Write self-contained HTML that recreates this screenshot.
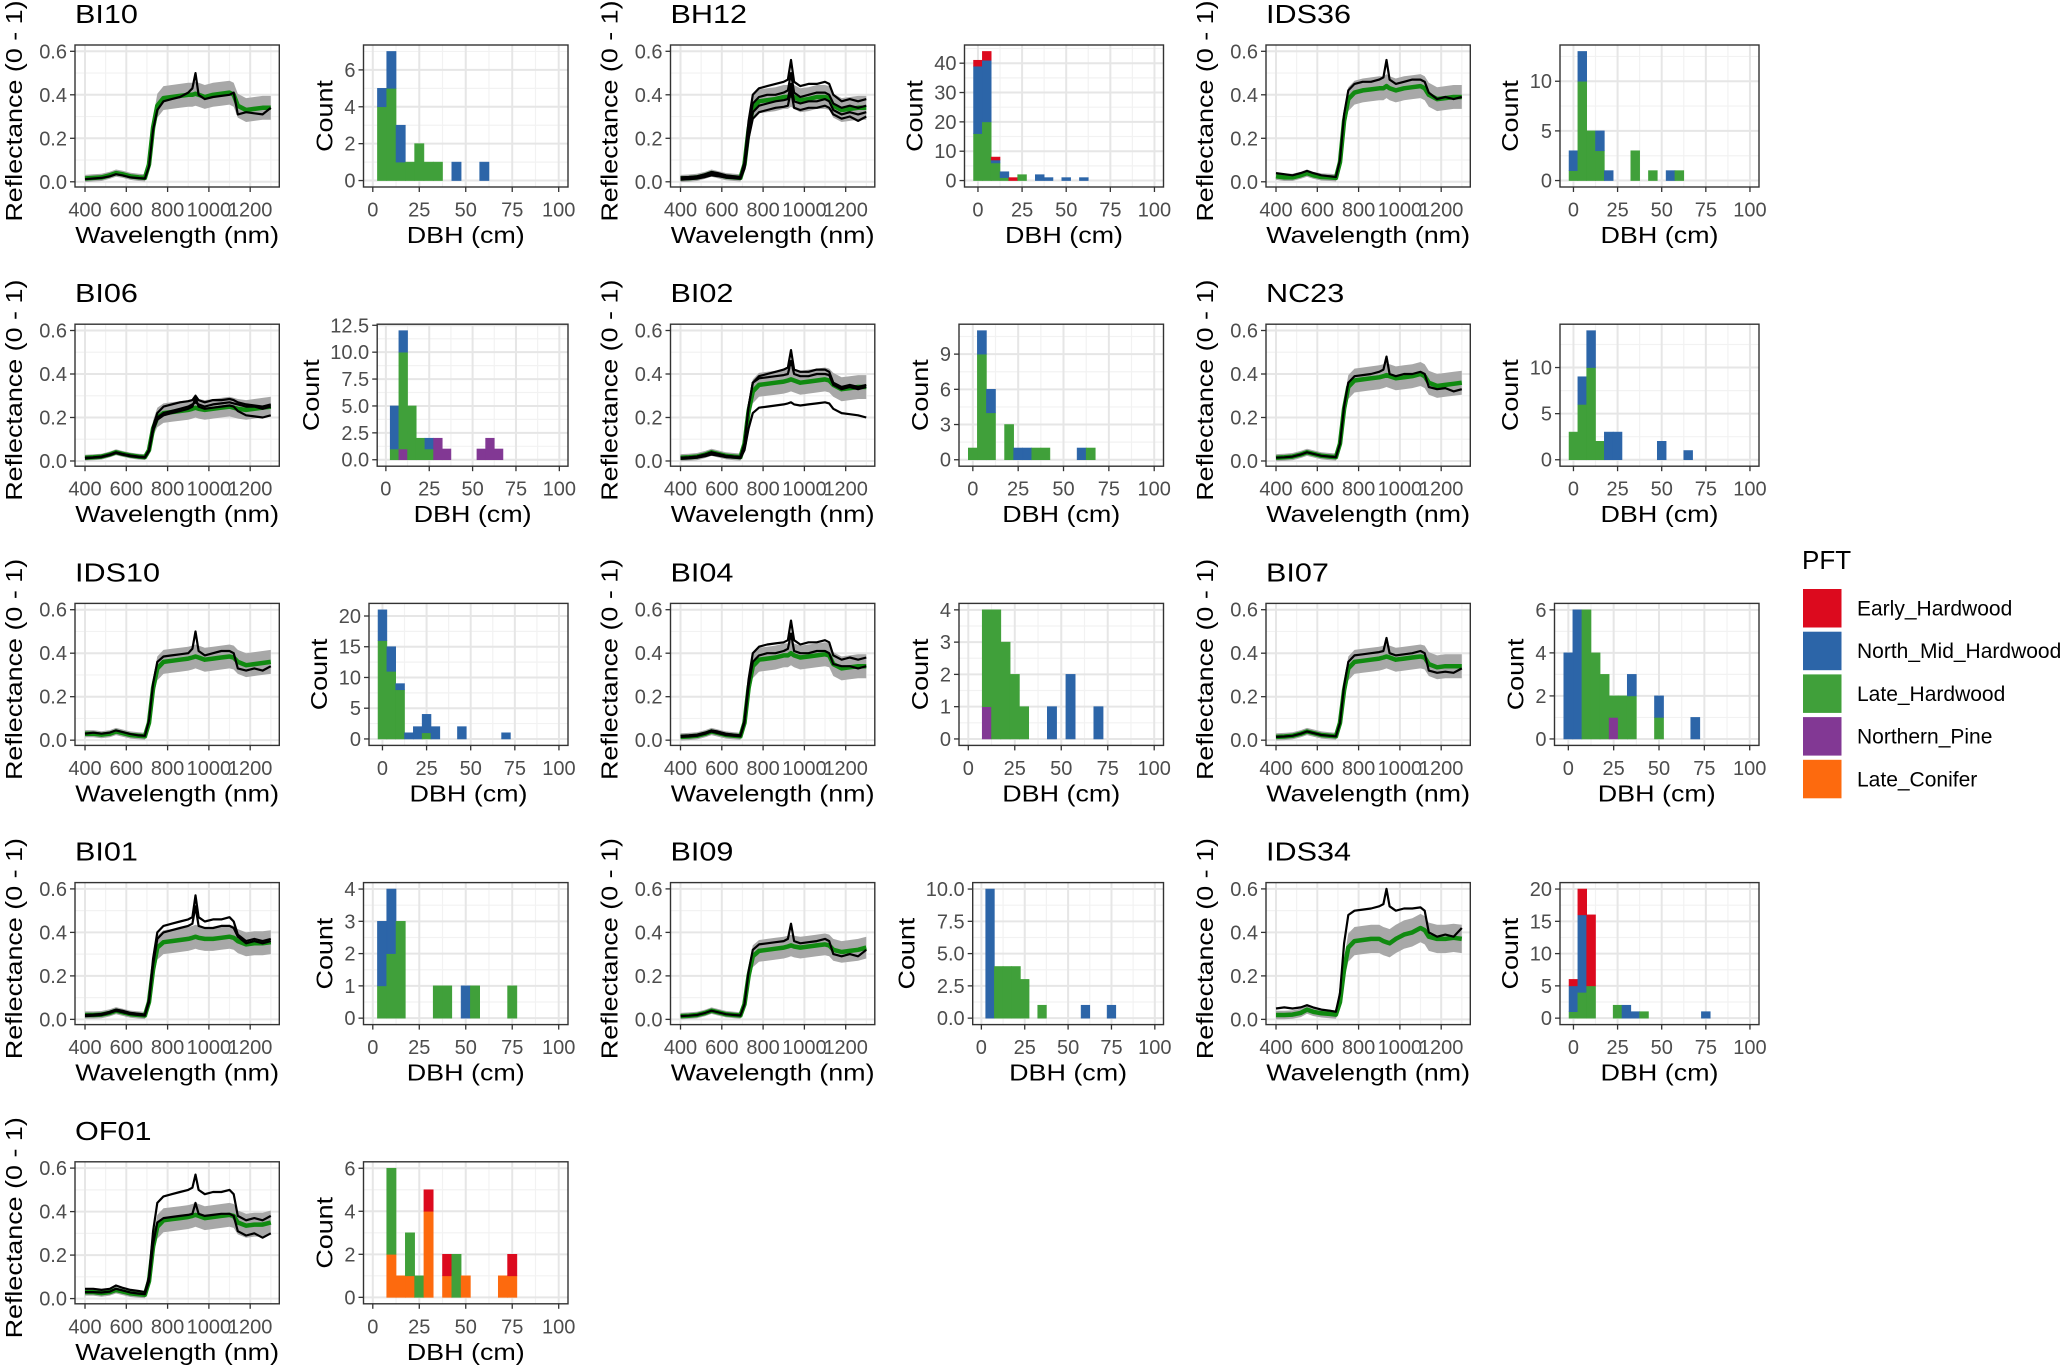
<!DOCTYPE html>
<html><head><meta charset="utf-8"><style>
html,body{margin:0;padding:0;background:#fff;}
svg{display:block;font-family:"Liberation Sans",Arial,sans-serif;}
</style></head><body>
<svg id="fig" xmlns="http://www.w3.org/2000/svg" width="2067" height="1370" viewBox="0 0 2067 1370"></svg>
<script>
// ===== Data =====
const wavelengths = [400,440,480,520,550,580,620,660,690,710,730,750,780,820,860,900,920,935,950,980,1020,1060,1100,1120,1140,1180,1220,1260,1300];
const ribbonRel = [.3,.3,.3,.3,.3,.3,.3,.3,.3,.5,.8,1,1,1,1,1,1,1,1,1,1,1,1,1,1,1,1,1,1];
const pftNames = ["Early_Hardwood","North_Mid_Hardwood","Late_Hardwood","Northern_Pine","Late_Conifer"];
const pftColors = ["#dc0a1e","#2c65a8","#40a03a","#823894","#fd6a0e"];
const siteNames = ["BI10","BH12","IDS36","BI06","BI02","NC23","IDS10","BI04","BI07","BI01","BI09","IDS34","OF01"];
const ribbonSd = [.055,.055,.055,.045,.055,.055,.055,.055,.055,.055,.05,.065,.055];
const meanSpectra = [
[.015,.018,.02,.03,.04,.035,.025,.02,.018,.08,.25,.35,.385,.39,.395,.40,.40,.405,.40,.39,.40,.405,.41,.40,.35,.33,.335,.34,.34],
[.015,.017,.02,.03,.04,.033,.024,.02,.018,.08,.24,.34,.37,.375,.38,.39,.39,.40,.39,.375,.38,.39,.39,.385,.35,.33,.335,.34,.34],
[.025,.02,.02,.03,.04,.03,.022,.02,.018,.09,.28,.38,.41,.42,.425,.43,.43,.44,.43,.42,.43,.435,.44,.43,.40,.38,.385,.39,.39],
[.015,.017,.02,.03,.04,.033,.025,.02,.018,.05,.15,.2,.22,.225,.23,.235,.24,.245,.24,.235,.24,.245,.25,.245,.24,.235,.24,.245,.25],
[.015,.017,.02,.03,.04,.033,.024,.02,.018,.08,.23,.32,.35,.355,.36,.365,.37,.375,.37,.36,.365,.37,.375,.37,.35,.33,.335,.34,.34],
[.015,.017,.02,.03,.04,.033,.024,.02,.018,.08,.24,.34,.37,.375,.38,.385,.39,.395,.39,.38,.385,.39,.40,.39,.36,.345,.35,.355,.36],
[.03,.03,.025,.03,.04,.033,.024,.02,.018,.08,.24,.33,.36,.365,.37,.375,.38,.385,.38,.37,.375,.38,.385,.38,.36,.345,.35,.355,.36],
[.015,.017,.02,.03,.04,.033,.024,.02,.018,.08,.24,.34,.37,.375,.38,.39,.39,.40,.39,.38,.385,.39,.395,.39,.35,.33,.335,.34,.34],
[.015,.017,.02,.03,.04,.033,.024,.02,.018,.08,.23,.33,.36,.365,.37,.375,.38,.385,.38,.37,.375,.38,.385,.38,.35,.335,.34,.34,.34],
[.02,.02,.022,.03,.04,.033,.024,.02,.018,.08,.23,.33,.355,.36,.365,.37,.375,.38,.375,.37,.37,.375,.38,.375,.36,.345,.35,.35,.355],
[.015,.017,.02,.03,.04,.033,.024,.02,.018,.07,.2,.29,.315,.32,.325,.33,.335,.34,.335,.33,.335,.34,.345,.34,.32,.31,.315,.32,.33],
[.02,.02,.022,.03,.045,.035,.028,.025,.022,.08,.23,.33,.36,.365,.37,.37,.36,.355,.35,.37,.39,.40,.42,.41,.38,.37,.37,.375,.37],
[.03,.03,.025,.03,.04,.033,.024,.02,.018,.08,.24,.33,.36,.365,.37,.375,.38,.385,.38,.37,.375,.38,.385,.38,.35,.335,.34,.34,.35]
];
const treeSpectra = [
[[.012,.015,.018,.025,.035,.03,.02,.017,.015,.07,.24,.33,.37,.38,.39,.41,.43,.50,.40,.38,.39,.395,.40,.41,.31,.32,.315,.31,.34]],
[[.02,.022,.025,.035,.045,.04,.03,.025,.022,.09,.28,.40,.43,.44,.45,.46,.47,.56,.46,.44,.45,.45,.46,.45,.40,.37,.38,.37,.38],
 [.015,.017,.02,.03,.04,.033,.024,.02,.018,.08,.25,.36,.39,.40,.40,.41,.42,.50,.41,.39,.40,.41,.41,.40,.36,.34,.35,.34,.35],
 [.012,.014,.017,.026,.035,.03,.022,.018,.016,.07,.22,.32,.35,.36,.37,.375,.38,.45,.37,.36,.37,.37,.38,.37,.33,.31,.32,.31,.32],
 [.01,.012,.015,.022,.03,.026,.019,.016,.014,.06,.2,.29,.32,.33,.34,.345,.35,.42,.34,.33,.34,.34,.35,.34,.31,.29,.3,.28,.3]],
[[.04,.035,.03,.04,.05,.04,.03,.025,.022,.1,.31,.42,.45,.46,.46,.47,.48,.56,.47,.45,.46,.47,.47,.46,.41,.38,.39,.38,.39]],
[[.015,.017,.02,.03,.04,.033,.025,.02,.018,.05,.16,.22,.25,.26,.27,.275,.28,.30,.28,.27,.28,.28,.285,.28,.27,.26,.255,.25,.26],
 [.012,.015,.018,.027,.037,.03,.022,.018,.016,.045,.14,.19,.21,.22,.23,.24,.25,.29,.25,.24,.245,.25,.255,.25,.23,.21,.205,.2,.21],
 [.013,.016,.019,.028,.038,.031,.023,.019,.017,.05,.15,.2,.22,.23,.24,.25,.26,.27,.26,.25,.26,.265,.27,.265,.26,.25,.25,.24,.25]],
[[.015,.017,.02,.03,.04,.033,.024,.02,.018,.08,.25,.36,.39,.40,.41,.42,.43,.51,.42,.41,.41,.42,.42,.41,.36,.34,.35,.34,.35],
 [.015,.017,.02,.03,.04,.033,.024,.02,.018,.08,.25,.36,.38,.385,.39,.395,.40,.46,.40,.39,.39,.40,.40,.395,.35,.33,.34,.33,.34],
 [.01,.012,.015,.022,.03,.025,.018,.015,.013,.05,.15,.22,.245,.25,.255,.26,.265,.27,.26,.255,.26,.265,.27,.265,.24,.22,.215,.21,.2]],
[[.015,.017,.02,.03,.04,.033,.024,.02,.018,.08,.25,.36,.39,.395,.40,.41,.42,.48,.40,.39,.40,.40,.41,.40,.34,.33,.335,.32,.33]],
[[.03,.035,.03,.035,.045,.038,.028,.022,.02,.09,.26,.36,.385,.39,.395,.40,.42,.50,.41,.39,.40,.41,.41,.40,.33,.32,.33,.32,.34]],
[[.02,.022,.025,.035,.045,.04,.03,.025,.022,.09,.28,.40,.43,.44,.445,.45,.46,.55,.46,.44,.45,.45,.46,.45,.39,.37,.38,.37,.38],
 [.015,.017,.02,.03,.04,.033,.024,.02,.018,.08,.25,.36,.39,.40,.40,.41,.42,.49,.41,.40,.40,.41,.41,.40,.35,.34,.34,.33,.34]],
[[.015,.017,.02,.03,.04,.033,.024,.02,.018,.08,.25,.36,.39,.395,.40,.405,.41,.47,.40,.39,.395,.40,.41,.40,.32,.31,.315,.31,.33]],
[[.02,.022,.025,.035,.045,.04,.03,.025,.022,.09,.28,.40,.43,.44,.45,.46,.47,.57,.47,.45,.46,.46,.47,.45,.39,.36,.37,.36,.37],
 [.015,.017,.02,.03,.04,.033,.024,.02,.018,.08,.25,.37,.40,.41,.42,.43,.44,.52,.43,.42,.42,.43,.43,.42,.38,.35,.36,.35,.36]],
[[.015,.017,.02,.03,.04,.033,.024,.02,.018,.07,.22,.32,.345,.35,.355,.36,.37,.44,.36,.35,.355,.36,.37,.36,.30,.29,.30,.29,.32]],
[[.05,.055,.05,.055,.065,.055,.045,.04,.035,.12,.35,.48,.50,.505,.51,.52,.53,.60,.52,.50,.51,.51,.515,.50,.40,.38,.39,.38,.42]],
[[.045,.045,.04,.045,.06,.05,.04,.035,.03,.1,.31,.44,.47,.48,.49,.50,.51,.57,.50,.48,.49,.49,.50,.48,.38,.36,.37,.36,.38],
 [.03,.03,.028,.032,.045,.038,.028,.023,.02,.08,.25,.35,.37,.375,.38,.385,.39,.44,.39,.38,.385,.39,.39,.38,.31,.29,.30,.28,.30]]
];
const dbhBins = [
[[5,[0,1,4,0,0]],[10,[0,2,5,0,0]],[15,[0,2,1,0,0]],[20,[0,0,1,0,0]],[25,[0,0,2,0,0]],[30,[0,0,1,0,0]],[35,[0,0,1,0,0]],[45,[0,1,0,0,0]],[60,[0,1,0,0,0]]],
[[0,[2,23,16,0,0]],[5,[3,21,20,0,0]],[10,[1,1,6,0,0]],[15,[0,2,1,0,0]],[20,[1,0,0,0,0]],[25,[0,0,2,0,0]],[35,[0,2,0,0,0]],[40,[0,1,0,0,0]],[50,[0,1,0,0,0]],[60,[0,1,0,0,0]]],
[[0,[0,2,1,0,0]],[5,[0,3,10,0,0]],[10,[0,0,5,0,0]],[15,[0,2,3,0,0]],[20,[0,1,0,0,0]],[35,[0,0,3,0,0]],[45,[0,0,1,0,0]],[55,[0,1,0,0,0]],[60,[0,0,1,0,0]]],
[[5,[0,4,1,0,0]],[10,[0,2,9,1,0]],[15,[0,0,5,0,0]],[20,[0,0,2,0,0]],[25,[0,1,1,0,0]],[30,[0,0,0,2,0]],[35,[0,0,0,1,0]],[55,[0,0,0,1,0]],[60,[0,0,0,2,0]],[65,[0,0,0,1,0]]],
[[0,[0,0,1,0,0]],[5,[0,2,9,0,0]],[10,[0,2,4,0,0]],[20,[0,0,3,0,0]],[25,[0,1,0,0,0]],[30,[0,1,0,0,0]],[35,[0,0,1,0,0]],[40,[0,0,1,0,0]],[60,[0,1,0,0,0]],[65,[0,0,1,0,0]]],
[[0,[0,0,3,0,0]],[5,[0,3,6,0,0]],[10,[0,4,10,0,0]],[15,[0,0,2,0,0]],[20,[0,3,0,0,0]],[25,[0,3,0,0,0]],[50,[0,2,0,0,0]],[65,[0,1,0,0,0]]],
[[0,[0,5,16,0,0]],[5,[0,4,11,0,0]],[10,[0,1,8,0,0]],[15,[0,1,0,0,0]],[20,[0,2,0,0,0]],[25,[0,3,1,0,0]],[30,[0,2,0,0,0]],[45,[0,2,0,0,0]],[70,[0,1,0,0,0]]],
[[10,[0,0,3,1,0]],[15,[0,0,4,0,0]],[20,[0,0,3,0,0]],[25,[0,0,2,0,0]],[30,[0,0,1,0,0]],[45,[0,1,0,0,0]],[55,[0,2,0,0,0]],[70,[0,1,0,0,0]]],
[[0,[0,4,0,0,0]],[5,[0,6,0,0,0]],[10,[0,0,6,0,0]],[15,[0,0,4,0,0]],[20,[0,0,3,0,0]],[25,[0,0,1,1,0]],[30,[0,0,2,0,0]],[35,[0,1,2,0,0]],[50,[0,1,1,0,0]],[70,[0,1,0,0,0]]],
[[5,[0,2,1,0,0]],[10,[0,2,2,0,0]],[15,[0,0,3,0,0]],[35,[0,0,1,0,0]],[40,[0,0,1,0,0]],[50,[0,1,0,0,0]],[55,[0,0,1,0,0]],[75,[0,0,1,0,0]]],
[[5,[0,10,0,0,0]],[10,[0,0,4,0,0]],[15,[0,0,4,0,0]],[20,[0,0,4,0,0]],[25,[0,0,3,0,0]],[35,[0,0,1,0,0]],[60,[0,1,0,0,0]],[75,[0,1,0,0,0]]],
[[0,[1,4,1,0,0]],[5,[4,12,4,0,0]],[10,[11,0,5,0,0]],[25,[0,0,2,0,0]],[30,[0,2,0,0,0]],[35,[0,1,0,0,0]],[40,[0,0,1,0,0]],[75,[0,1,0,0,0]]],
[[10,[0,0,4,0,2]],[15,[0,0,0,0,1]],[20,[0,0,2,0,1]],[25,[0,0,1,0,0]],[30,[1,0,0,0,4]],[40,[1,0,0,0,1]],[45,[0,0,2,0,0]],[50,[0,0,0,0,1]],[70,[0,0,0,0,1]],[75,[1,0,0,0,1]]]
];
const countTicks = [[0,2,4,6],[0,10,20,30,40],[0,5,10],[0,2.5,5,7.5,10,12.5],[0,3,6,9],[0,5,10],[0,5,10,15,20],[0,1,2,3,4],[0,2,4,6],[0,1,2,3,4],[0,2.5,5,7.5,10],[0,5,10,15,20],[0,2,4,6]];
const countTickLabels = [["0","2","4","6"],["0","10","20","30","40"],["0","5","10"],["0.0","2.5","5.0","7.5","10.0","12.5"],["0","3","6","9"],["0","5","10"],["0","5","10","15","20"],["0","1","2","3","4"],["0","2","4","6"],["0","1","2","3","4"],["0.0","2.5","5.0","7.5","10.0"],["0","5","10","15","20"],["0","2","4","6"]];
const waveTicks = [400,600,800,1000,1200];
const reflTicks = [0,0.2,0.4,0.6];
const reflTickLabels = ["0.0","0.2","0.4","0.6"];
const dbhTicks = [0,25,50,75,100];

// ===== Drawing =====
const NS = "http://www.w3.org/2000/svg";
const svg = document.getElementById("fig");
function mk(tag, attrs, parent) {
  const e = document.createElementNS(NS, tag);
  for (const k in attrs) e.setAttribute(k, attrs[k]);
  (parent || svg).appendChild(e);
  return e;
}
function txt(s, attrs, parent) { const t = mk("text", attrs, parent); t.textContent = s; return t; }
function lblW(s) { let w = 0; for (const c of s) w += (c === "." ? 5.4 : 11); return w; }

const COLW = 595.5, ROWH = 279.2;
const PT = 45, PB = 187;
const SX0 = 75, SX1 = 279.3;
const HX1 = 568;
const TICKF = 20;

function sx(w){ return SX0 + (w - 351.5) / (1341 - 351.5) * (SX1 - SX0); }
function sy(v){ return PB - (v + 0.024) / (0.629 + 0.024) * (PB - PT); }

siteNames.forEach((site, i) => {
  const col = i % 3, row = Math.floor(i / 3);
  const ox = col * COLW, oy = row * ROWH;
  const g = mk("g", {transform: `translate(${ox},${oy})`});
  
  

  const tt = txt(site, {transform:`translate(${SX0},23) scale(1.2,1)`, "font-size":25.5, fill:"#000"}, g);
  
  

  // ---- spectrum panel ----
  const sp = mk("g", {}, g);
  
  
  mk("rect", {x:SX0, y:PT, width:SX1-SX0, height:PB-PT, fill:"#fff"}, sp);
  [500,700,900,1100,1300].forEach(w => mk("line",{x1:sx(w),x2:sx(w),y1:PT,y2:PB,stroke:"#f2f2f2","stroke-width":1.2},sp));
  [0.1,0.3,0.5].forEach(v => mk("line",{x1:SX0,x2:SX1,y1:sy(v),y2:sy(v),stroke:"#f2f2f2","stroke-width":1.2},sp));
  waveTicks.forEach(w => mk("line",{x1:sx(w),x2:sx(w),y1:PT,y2:PB,stroke:"#e6e6e6","stroke-width":2},sp));
  reflTicks.forEach(v => mk("line",{x1:SX0,x2:SX1,y1:sy(v),y2:sy(v),stroke:"#e6e6e6","stroke-width":2},sp));
  const mean = meanSpectra[i], sd = ribbonSd[i];
  let up = wavelengths.map((w,k)=>`${sx(w).toFixed(1)},${sy(mean[k]+sd*ribbonRel[k]).toFixed(1)}`);
  let lo = wavelengths.map((w,k)=>`${sx(w).toFixed(1)},${sy(mean[k]-sd*ribbonRel[k]).toFixed(1)}`).reverse();
  const rib = mk("polygon",{points:up.concat(lo).join(" "), fill:"#a8a8a8"}, sp);
  
  
  const ml = mk("polyline",{points:wavelengths.map((w,k)=>`${sx(w).toFixed(1)},${sy(mean[k]).toFixed(1)}`).join(" "), fill:"none", stroke:"#108a10","stroke-width":4.5,"stroke-linejoin":"round"}, sp);
  
  
  treeSpectra[i].forEach(arr => {
    const bl = mk("polyline",{points:wavelengths.map((w,k)=>`${sx(w).toFixed(1)},${sy(arr[k]).toFixed(1)}`).join(" "), fill:"none", stroke:"#000","stroke-width":2.2,"stroke-linejoin":"round"}, sp);
    
    
  });
  mk("rect",{x:SX0,y:PT,width:SX1-SX0,height:PB-PT,fill:"none",stroke:"#333","stroke-width":1.4}, sp);
  waveTicks.forEach(w => {
    mk("line",{x1:sx(w),x2:sx(w),y1:PB,y2:PB+5,stroke:"#333","stroke-width":1.3},sp);
    txt(String(w),{x:sx(w),y:216.5,"text-anchor":"middle","font-size":TICKF,fill:"#4d4d4d"},sp);
  });
  reflTicks.forEach((v,k) => {
    mk("line",{x1:SX0-5,x2:SX0,y1:sy(v),y2:sy(v),stroke:"#333","stroke-width":1.3},sp);
    txt(reflTickLabels[k],{x:SX0-8,y:sy(v)+7,"text-anchor":"end","font-size":TICKF,fill:"#4d4d4d"},sp);
  });
  const xl = txt("Wavelength (nm)",{transform:`translate(${(SX0+SX1)/2},243) scale(1.17,1)`,"text-anchor":"middle","font-size":23,fill:"#000"},sp);
  
  
  const yl = txt("Reflectance (0 - 1)",{transform:`translate(22,${(PT+PB)/2-5}) rotate(-90) scale(1.17,1)`,"text-anchor":"middle","font-size":23,fill:"#000"},sp);
  
  

  // ---- histogram panel ----
  const hp = mk("g", {}, g);
  
  
  const labs = countTickLabels[i];
  const lw = Math.max(...labs.map(lblW));
  const HX0 = 358 + 0.5 * lw;
  const bins = dbhBins[i];
  const binLo = Math.min(0, ...bins.map(b=>b[0]-2.5));
  const xmin = binLo - 0.05*(100-binLo), xmax = 100 + 0.05*(100-binLo);
  const maxC = Math.max(...bins.map(b=>b[1].reduce((a,c)=>a+c,0)));
  const ymin = -0.05*maxC, ymax = 1.05*maxC;
  const hx = d => HX0 + (d - xmin)/(xmax - xmin)*(HX1 - HX0);
  const hy = c => PB - (c - ymin)/(ymax - ymin)*(PB - PT);
  mk("rect",{x:HX0,y:PT,width:HX1-HX0,height:PB-PT,fill:"#fff"},hp);
  [12.5,37.5,62.5,87.5].forEach(d=>mk("line",{x1:hx(d),x2:hx(d),y1:PT,y2:PB,stroke:"#f2f2f2","stroke-width":1.2},hp));
  const ct = countTicks[i];
  for (let k=0;k<ct.length;k++){ const m = k<ct.length-1 ? (ct[k]+ct[k+1])/2 : ct[k]+(ct[1]-ct[0])/2; if (m<=ymax) mk("line",{x1:HX0,x2:HX1,y1:hy(m),y2:hy(m),stroke:"#f2f2f2","stroke-width":1.2},hp); }
  dbhTicks.forEach(d=>mk("line",{x1:hx(d),x2:hx(d),y1:PT,y2:PB,stroke:"#e6e6e6","stroke-width":2},hp));
  ct.forEach(c=>mk("line",{x1:HX0,x2:HX1,y1:hy(c),y2:hy(c),stroke:"#e6e6e6","stroke-width":2},hp));
  const order = [4,3,2,1,0];
  bins.forEach(b => {
    let base = 0;
    order.forEach(p => {
      const n = b[1][p];
      if (!n) return;
      const r = mk("rect",{x:hx(b[0]-2.5),y:hy(base+n),width:hx(b[0]+2.5)-hx(b[0]-2.5),height:hy(base)-hy(base+n),fill:pftColors[p],stroke:pftColors[p],"stroke-width":0.6},hp);
      
      
      base += n;
    });
  });
  mk("rect",{x:HX0,y:PT,width:HX1-HX0,height:PB-PT,fill:"none",stroke:"#333","stroke-width":1.4},hp);
  dbhTicks.forEach(d=>{
    mk("line",{x1:hx(d),x2:hx(d),y1:PB,y2:PB+5,stroke:"#333","stroke-width":1.3},hp);
    txt(String(d),{x:hx(d),y:216.5,"text-anchor":"middle","font-size":TICKF,fill:"#4d4d4d"},hp);
  });
  ct.forEach((c,k)=>{
    mk("line",{x1:HX0-5,x2:HX0,y1:hy(c),y2:hy(c),stroke:"#333","stroke-width":1.3},hp);
    txt(labs[k],{x:HX0-8,y:hy(c)+7,"text-anchor":"end","font-size":TICKF,fill:"#4d4d4d"},hp);
  });
  const hxl = txt("DBH (cm)",{transform:`translate(${(HX0+HX1)/2},243) scale(1.17,1)`,"text-anchor":"middle","font-size":23,fill:"#000"},hp);
  
  
  const hyl = txt("Count",{transform:`translate(${HX0-12-lw-8},${(PT+PB)/2}) rotate(-90) scale(1.17,1)`,"text-anchor":"middle","font-size":23,fill:"#000"},hp);
  
  
});

// ---- legend ----
const lg = mk("g",{});


const lt = txt("PFT",{x:1802,y:569,"font-size":26,fill:"#000"},lg);


pftNames.forEach((n,k)=>{
  const y0 = 589 + k*42.7;
  const key = mk("rect",{x:1803,y:y0,width:38.5,height:38.5,fill:pftColors[k]},lg);
  
  
  const t = txt(n,{x:1857,y:y0+26.5,"font-size":21,fill:"#000"},lg);
  
  
});
</script>
</body></html>
